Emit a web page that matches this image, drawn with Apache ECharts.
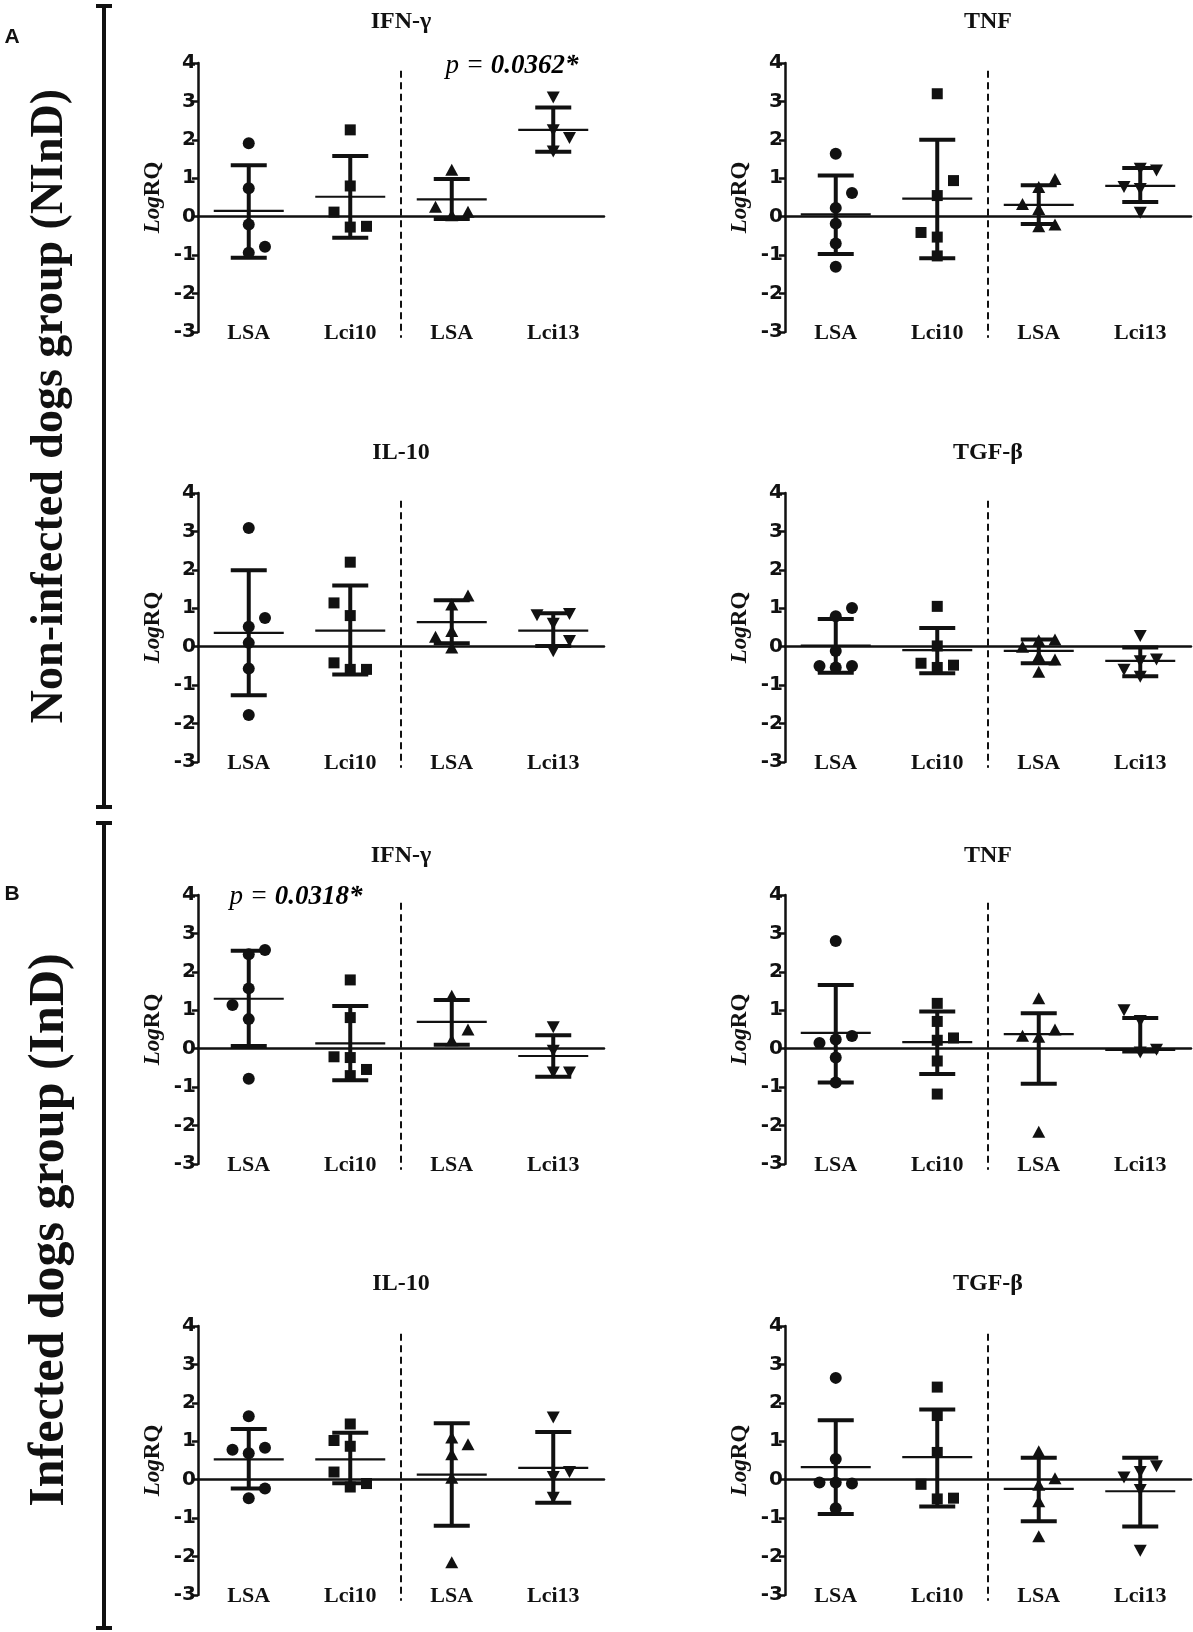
<!DOCTYPE html>
<html>
<head>
<meta charset="utf-8">
<title>LogRQ - cytokines</title>
<script src="https://cdn.jsdelivr.net/npm/echarts@6/dist/echarts.min.js"></script>
<style>
  html, body { margin: 0; padding: 0; background: #fff; }
  #chart { width: 1193px; height: 1632px; }
</style>
</head>
<body>
<div id="chart"></div>
<script>
// categories / axis
var groupNames = ['LSA', 'Lci10', 'LSA', 'Lci13'];
var cytokines = ['IFN-γ', 'TNF', 'IL-10', 'TGF-β'];
var yMin = -3, yMax = 4, yStep = 1;

// A - non-infected dogs (NInD). points per group: LSA, Lci10, LSA, Lci13
var nindIfn = [[1.91, 0.74, -0.2, -0.94, -0.78], [2.26, 0.8, -0.27, -0.25, 0.12], [1.22, 0.04, 0.13, 0.26], [3.1, 2.25, 1.7, 2.05]];
var nindIfnMean = [0.15, 0.52, 0.45, 2.26];
var nindIfnHi = [1.34, 1.58, 0.98, 2.84];
var nindIfnLo = [-1.07, -0.55, -0.06, 1.69];

var nindTnf = [[1.64, 0.23, -0.18, -0.7, -1.3, 0.62], [3.2, 0.55, -0.53, -1.02, 0.94, -0.41], [0.77, 0.2, -0.25, 0.98, 0.33, -0.2], [0.72, 0.1, 1.25, 1.2, 0.77]];
var nindTnfMean = [0.06, 0.47, 0.31, 0.8];
var nindTnfHi = [1.07, 2.0, 0.82, 1.27];
var nindTnfLo = [-0.97, -1.08, -0.19, 0.38];

var nindIl10 = [[3.09, 0.52, 0.1, -0.57, -1.78, 0.75], [2.2, 0.81, -0.59, -0.59, 1.14, -0.42], [1.1, 0.41, -0.02, 1.33, 0.26], [0.6, -0.12, 0.85, 0.82, 0.15]];
var nindIl10Mean = [0.36, 0.42, 0.64, 0.42];
var nindIl10Hi = [1.99, 1.59, 1.21, 0.87];
var nindIl10Lo = [-1.26, -0.72, 0.09, 0.02];

var nindTgf = [[0.79, -0.11, -0.54, 1.01, -0.5, -0.5], [1.05, 0.02, -0.54, -0.48, -0.43], [0.17, -0.24, -0.65, -0.33, 0.0, 0.19], [0.28, -0.38, -0.78, -0.33, -0.6]];
var nindTgfMean = [0.03, -0.09, -0.11, -0.37];
var nindTgfHi = [0.72, 0.49, 0.19, -0.02];
var nindTgfLo = [-0.68, -0.69, -0.43, -0.77];

// B - infected dogs (InD)
var indIfn = [[2.46, 1.57, 0.77, -0.78, 2.57, 1.14], [1.79, 0.81, -0.23, -0.7, -0.54, -0.21], [1.38, 0.22, 0.5], [0.56, -0.05, -0.62, -0.62]];
var indIfnMean = [1.3, 0.14, 0.7, -0.19];
var indIfnHi = [2.55, 1.11, 1.27, 0.35];
var indIfnLo = [0.07, -0.82, 0.1, -0.73];

var indTnf = [[2.8, 0.24, -0.23, -0.88, 0.33, 0.15], [1.18, 0.71, 0.22, -0.32, -1.18, 0.28], [1.31, 0.31, -2.16, 0.5, 0.34], [0.72, -0.1, -0.03, 1.0]];
var indTnfMean = [0.41, 0.17, 0.38, -0.03];
var indTnfHi = [1.66, 0.97, 0.92, 0.8];
var indTnfLo = [-0.88, -0.66, -0.91, -0.07];

var indIl10 = [[1.65, 0.69, -0.48, 0.83, 0.78, -0.23], [1.45, 0.87, -0.19, -0.1, 1.02, 0.2], [0.66, 0.05, -2.15, 0.92, 1.1], [1.62, 0.07, -0.47, 0.2]];
var indIl10Mean = [0.53, 0.53, 0.13, 0.31];
var indIl10Hi = [1.32, 1.22, 1.47, 1.24];
var indIl10Lo = [-0.23, -0.09, -1.2, -0.6];

var indTgf = [[2.65, 0.54, -0.07, -0.74, -0.1, -0.07], [2.41, 1.67, 0.71, -0.5, -0.48, -0.12], [0.74, -0.13, -0.56, -1.47, 0.04], [0.2, -0.27, -1.85, 0.35, 0.06]];
var indTgfMean = [0.33, 0.59, -0.24, -0.3];
var indTgfHi = [1.55, 1.83, 0.57, 0.57];
var indTgfLo = [-0.89, -0.7, -1.08, -1.22];

var pValues = ['0.0362*', '0.0318*'];

// layout
var ink = '#111';
var serif = '"Liberation Serif", "Times New Roman", serif';
var sans = '"DejaVu Sans", Arial, sans-serif';
var colLeft = [198, 785];
var rowTop = [63, 493, 895, 1326];
var titleY = [22, 453, 856, 1284];
var plotW = 406, plotH = 269;
var swarmGap = 0.4, swarmStep = 0.16;
var symbols = ['circle', 'rect', 'triangle', 'triangle'];
var symbolRot = [0, 0, 0, 180];
var symbolSz = [12, 11, [13, 12], [13, 12]];

var panels = [
  {pts: nindIfn, mean: nindIfnMean, hi: nindIfnHi, lo: nindIfnLo, row: 0, col: 0, name: 0},
  {pts: nindTnf, mean: nindTnfMean, hi: nindTnfHi, lo: nindTnfLo, row: 0, col: 1, name: 1},
  {pts: nindIl10, mean: nindIl10Mean, hi: nindIl10Hi, lo: nindIl10Lo, row: 1, col: 0, name: 2},
  {pts: nindTgf, mean: nindTgfMean, hi: nindTgfHi, lo: nindTgfLo, row: 1, col: 1, name: 3},
  {pts: indIfn, mean: indIfnMean, hi: indIfnHi, lo: indIfnLo, row: 2, col: 0, name: 0},
  {pts: indTnf, mean: indTnfMean, hi: indTnfHi, lo: indTnfLo, row: 2, col: 1, name: 1},
  {pts: indIl10, mean: indIl10Mean, hi: indIl10Hi, lo: indIl10Lo, row: 3, col: 0, name: 2},
  {pts: indTgf, mean: indTgfMean, hi: indTgfHi, lo: indTgfLo, row: 3, col: 1, name: 3}
];

// spread points that would overlap (like a prism scatter dot plot)
function swarm(values, gi) {
  var placed = [];
  var side = 1;
  return values.map(function (v) {
    function hits(slot) {
      return placed.some(function (q) { return q.slot === slot && Math.abs(q.v - v) < swarmGap; });
    }
    var slot = 0;
    if (hits(0)) {
      var tries = [side, -side, 2 * side, -2 * side];
      for (var k = 0; k < tries.length; k++) {
        if (!hits(tries[k])) { slot = tries[k]; break; }
      }
      side = -side;
    }
    placed.push({slot: slot, v: v});
    return [gi + 0.5 + slot * swarmStep, v];
  });
}

function errorBars(params, api) {
  var x = api.value(0);
  var pm = api.coord([x, api.value(1)]);
  var pl = api.coord([x, api.value(2)]);
  var ph = api.coord([x, api.value(3)]);
  var st = {stroke: ink, lineWidth: 4};
  return {type: 'group', children: [
    {type: 'line', shape: {x1: pl[0], y1: pl[1], x2: ph[0], y2: ph[1]}, style: st},
    {type: 'line', shape: {x1: ph[0] - 18, y1: ph[1], x2: ph[0] + 18, y2: ph[1]}, style: st},
    {type: 'line', shape: {x1: pl[0] - 18, y1: pl[1], x2: pl[0] + 18, y2: pl[1]}, style: st},
    {type: 'line', shape: {x1: pm[0] - 35, y1: pm[1], x2: pm[0] + 35, y2: pm[1]}, style: {stroke: ink, lineWidth: 2.2}}
  ]};
}

function divider(params, api) {
  var a = api.coord([api.value(0), api.value(1)]);
  var b = api.coord([api.value(0), api.value(2)]);
  return {type: 'line', shape: {x1: a[0], y1: a[1], x2: b[0], y2: b[1]},
    style: {stroke: ink, lineWidth: 2, lineDash: [7, 4.5]}};
}

var option = {animation: false, grid: [], xAxis: [], yAxis: [], series: [], graphic: []};

panels.forEach(function (p, i) {
  var left = colLeft[p.col], top = rowTop[p.row];
  option.grid.push({left: left, top: top, width: plotW, height: plotH});
  // zero line with ticks at groups
  option.xAxis.push({type: 'category', gridIndex: i, data: groupNames, position: 'bottom',
    axisLine: {onZero: true, lineStyle: {color: ink, width: 2.5}},
    axisTick: {alignWithLabel: true, length: 6, lineStyle: {color: ink, width: 2}},
    axisLabel: {show: false}, splitLine: {show: false}});
  // group names at the bottom
  option.xAxis.push({type: 'category', gridIndex: i, data: groupNames, position: 'bottom',
    axisLine: {show: false, onZero: false}, axisTick: {show: false}, splitLine: {show: false},
    axisLabel: {color: ink, fontFamily: serif, fontWeight: 'bold', fontSize: 22, margin: 1, verticalAlign: 'middle'}});
  // numeric x used to place marks
  option.xAxis.push({type: 'value', gridIndex: i, min: 0, max: 4, show: false});
  option.yAxis.push({type: 'value', gridIndex: i, min: yMin, max: yMax, interval: yStep,
    name: '{i|Log}RQ', nameLocation: 'middle', nameGap: 33,
    nameTextStyle: {color: ink, fontFamily: serif, fontWeight: 'bold', fontSize: 23,
      rich: {i: {color: ink, fontFamily: serif, fontWeight: 'bold', fontStyle: 'italic', fontSize: 23}}},
    axisLine: {show: true, onZero: false, lineStyle: {color: ink, width: 2.5}},
    axisTick: {show: true, length: 6, lineStyle: {color: ink, width: 2.5}},
    axisLabel: {color: ink, fontFamily: sans, fontWeight: 'bold', fontSize: 20, margin: 2},
    splitLine: {show: false}});

  var xv = 3 * i + 2;
  option.series.push({type: 'custom', xAxisIndex: xv, yAxisIndex: i, renderItem: divider,
    encode: {x: 0, y: [1, 2]}, data: [[2, 3.8, -3.15]], silent: true, clip: false});
  option.series.push({type: 'custom', xAxisIndex: xv, yAxisIndex: i, renderItem: errorBars,
    encode: {x: 0, y: [1, 2, 3]}, silent: true,
    data: p.mean.map(function (m, g) { return [g + 0.5, m, p.lo[g], p.hi[g]]; })});
  p.pts.forEach(function (vals, g) {
    option.series.push({type: 'scatter', xAxisIndex: xv, yAxisIndex: i,
      symbol: symbols[g], symbolRotate: symbolRot[g], symbolSize: symbolSz[g],
      itemStyle: {color: ink, opacity: 1}, data: swarm(vals, g), silent: true});
  });

  option.graphic.push({type: 'text', x: left + plotW / 2, y: titleY[p.row],
    style: {text: cytokines[p.name], fill: ink, font: 'bold 24px ' + serif, textAlign: 'center', textVerticalAlign: 'middle', verticalAlign: 'middle'}});
});

var pRich = {p: {fontFamily: serif, fontStyle: 'italic', fontSize: 27, color: '#333'},
  n: {fontFamily: serif, fontStyle: 'italic', fontWeight: 'bold', fontSize: 27, color: ink}};
option.graphic.push(
  {type: 'text', x: 512, y: 66, style: {text: '{p|p = }{n|' + pValues[0] + '}', rich: pRich, textAlign: 'center', textVerticalAlign: 'middle', verticalAlign: 'middle'}},
  {type: 'text', x: 296, y: 897, style: {text: '{p|p = }{n|' + pValues[1] + '}', rich: pRich, textAlign: 'center', textVerticalAlign: 'middle', verticalAlign: 'middle'}},
  {type: 'text', x: 12, y: 37, style: {text: 'A', fill: ink, font: 'bold 21px "Liberation Sans", Arial, sans-serif', textAlign: 'center', textVerticalAlign: 'middle', verticalAlign: 'middle'}},
  {type: 'text', x: 12, y: 894, style: {text: 'B', fill: ink, font: 'bold 21px "Liberation Sans", Arial, sans-serif', textAlign: 'center', textVerticalAlign: 'middle', verticalAlign: 'middle'}},
  {type: 'text', x: 50, y: 406, rotation: Math.PI / 2, style: {text: 'Non-infected dogs group (NInD)', fill: ink, font: 'bold 46px ' + serif, textAlign: 'center', textVerticalAlign: 'middle', verticalAlign: 'middle'}},
  {type: 'text', x: 50, y: 1230, rotation: Math.PI / 2, style: {text: 'Infected dogs group (InD)', fill: ink, font: 'bold 50px ' + serif, textAlign: 'center', textVerticalAlign: 'middle', verticalAlign: 'middle'}}
);
// brackets
[[6, 807], [823, 1628]].forEach(function (b) {
  var st = {stroke: ink, lineWidth: 4};
  option.graphic.push(
    {type: 'line', shape: {x1: 104, y1: b[0], x2: 104, y2: b[1]}, style: st},
    {type: 'line', shape: {x1: 96, y1: b[0], x2: 112, y2: b[0]}, style: st},
    {type: 'line', shape: {x1: 96, y1: b[1], x2: 112, y2: b[1]}, style: st}
  );
});

var chart = echarts.init(document.getElementById('chart'));
chart.setOption(option);
</script>
</body>
</html>
